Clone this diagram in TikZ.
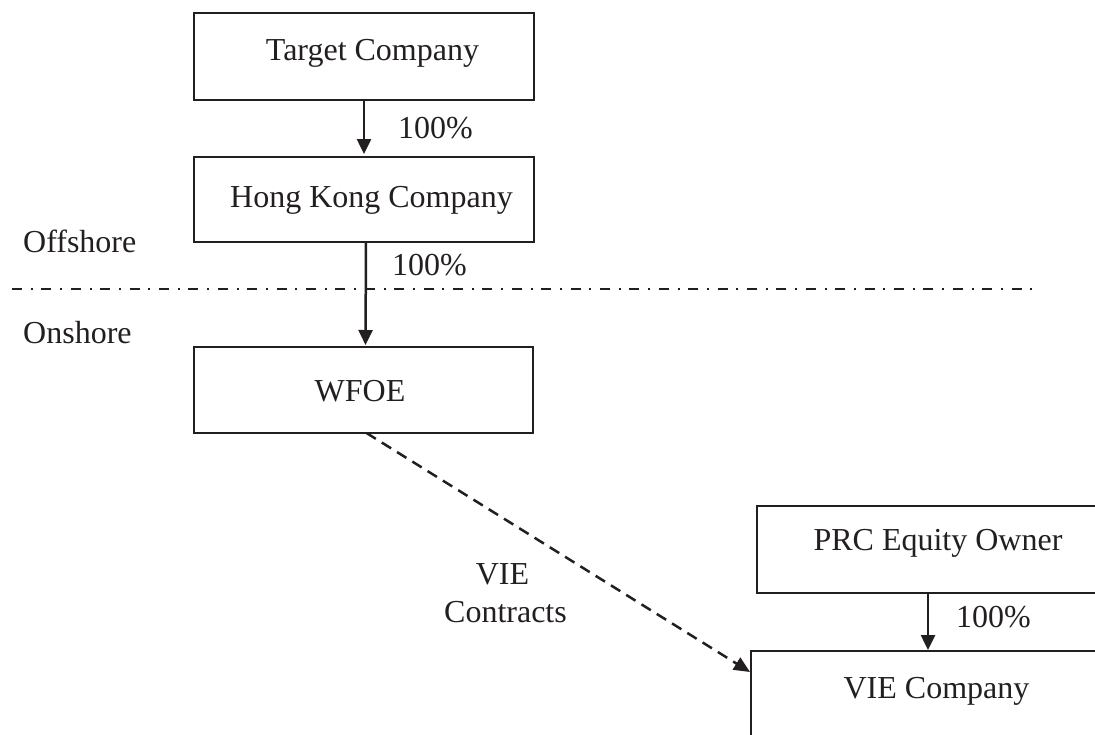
\documentclass[tikz,border=0pt]{standalone}
\usepackage{fontspec}
\setmainfont{Liberation Serif}
\usetikzlibrary{arrows.meta}
\definecolor{ink}{RGB}{35,31,32}
\begin{document}
\begin{tikzpicture}[x=1pt,y=-1pt,
  box/.style={draw=ink,line width=2pt,rectangle,inner sep=0pt,outer sep=0pt,anchor=north west},
  txt/.style={inner sep=0pt,text=ink,font=\fontsize{32}{37}\selectfont},
  own/.style={draw=ink,line width=2.5pt,-{Triangle[length=15pt,width=14pt]}},
  vieline/.style={draw=ink,line width=2.5pt,dash pattern=on 11pt off 7pt,-{Triangle[length=16pt,width=14pt]}},
  border/.style={draw=ink,line width=2.5pt,dash pattern=on 10pt off 8.7pt on 2pt off 8.7pt}]
\useasboundingbox (0,0) rectangle (1095,734);
\clip (0,0) rectangle (1095,734);
% boxes
\node[box,minimum width=340pt,minimum height=87pt] (tc) at (194,13) {};
\node[box,minimum width=340pt,minimum height=85pt] (hk) at (194,157) {};
\node[box,minimum width=339pt,minimum height=86pt] (wf) at (194,347) {};
\node[box,minimum width=342pt,minimum height=87pt] (prc) at (757,506) {};
\node[box,minimum width=370pt,minimum height=120pt] (vie) at (751,651) {};
% box texts
\node[txt,anchor=base] (tct) at (372.5,60) {Target Company};
\node[txt,anchor=base] (hkt) at (371.5,207) {Hong Kong Company};
\node[txt,anchor=base] (wft) at (360,401) {WFOE};
\node[txt,anchor=base] (prct) at (938,550) {PRC Equity Owner};
\node[txt,anchor=base] (viet) at (936.5,698) {VIE Company};
% side labels
\node[txt,anchor=base west] (off) at (23,252) {Offshore};
\node[txt,anchor=base west] (on) at (23,343) {Onshore};
% percentage labels
\node[txt,anchor=base west] (p1) at (398,138) {100\%};
\node[txt,anchor=base west] (p2) at (392,275) {100\%};
\node[txt,anchor=base west] (p3) at (956,627) {100\%};
\node[txt,anchor=base] (vc1) at (502.5,584) {VIE};
\node[txt,anchor=base] (vc2) at (505.5,622) {Contracts};
% offshore / onshore border
\coordinate (bl) at (12,289);
\coordinate (br) at (1034,289);
\draw[border] (bl) -- (br);
% connectors
\draw[own] (tc.south) -- ([yshift=3pt]hk.north);
\draw[own] ([xshift=2pt]hk.south) -- ([xshift=2pt,yshift=2pt]wf.north);
\draw[own] (prc.south) -- ([yshift=1pt]vie.north -| prc.south);
\draw[vieline] ([xshift=3pt]wf.south) -- ([yshift=-21pt,xshift=-1pt]vie.north west);
\end{tikzpicture}
\end{document}
